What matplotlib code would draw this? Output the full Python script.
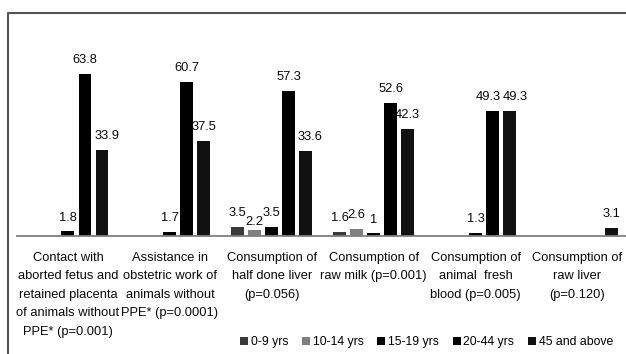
import numpy as np
import matplotlib
matplotlib.use("Agg")
import matplotlib.pyplot as plt
from matplotlib.lines import Line2D
from matplotlib.patches import Patch

plt.rcParams['font.family'] = ['Liberation Sans', 'DejaVu Sans']

# Data
categories = [
    "Contact with\naborted fetus and\nretained placenta\nof animals without\nPPE* (p=0.001)",
    "Assistance in\nobstetric work of\nanimals without\nPPE* (p=0.0001)",
    "Consumption of\nhalf done liver\n(p=0.056)",
    "Consumption of\nraw milk (p=0.001)",
    "Consumption of\nanimal  fresh\nblood (p=0.005)",
    "Consumption of\nraw liver\n(p=0.120)",
]
series_names = ["0-9 yrs", "10-14 yrs", "15-19 yrs", "20-44 yrs", "45 and above"]
age_0_9 = [0, 0, 3.5, 1.6, 0, 0]
age_10_14 = [0, 0, 2.2, 2.6, 0, 0]
age_15_19 = [1.8, 1.7, 3.5, 1, 1.3, 0]
age_20_44 = [63.8, 60.7, 57.3, 52.6, 49.3, 0]
age_45_up = [33.9, 37.5, 33.6, 42.3, 49.3, 3.1]
series = [age_0_9, age_10_14, age_15_19, age_20_44, age_45_up]
colors = ["#3a3a3a", "#7f7f7f", "#000000", "#000000", "#111111"]

fig = plt.figure(figsize=(6.26, 3.54), dpi=100)
ax = fig.add_axes([17 / 626, 0.3333, 611.5 / 626, 0.5015])

x = np.arange(len(categories))
step = 0.167
width = 0.127
# label nudges in pixels (series index, group index) -> (dx, dy)
nudge = {(1, 2): (0, -5), (4, 0): (5, 0), (3, 4): (-4, 0), (4, 4): (6, 0),
         (4, 2): (4, 0), (1, 3): (0, 1)}

for k, vals in enumerate(series):
    pos = x + (k - 2) * step
    ax.bar(pos, vals, width, color=colors[k], linewidth=0, label=series_names[k])
    for g, (p, v) in enumerate(zip(pos, vals)):
        if v == 0:
            continue
        dx, dy = nudge.get((k, g), (0, 0))
        ax.annotate(f"{v:g}", (p, v), xytext=(dx * 0.72, 10 + dy * 0.72),
                    textcoords="offset points", ha="center", va="center",
                    fontsize=9.3, color="#0a0a0a")

ax.set_xlim(-0.5, 5.5)
ax.set_ylim(0, 70)
ax.set_yticks([])
ax.set_xticks(x)
ax.set_xticklabels(categories, fontsize=9.3, color="#0a0a0a", va="top",
                   linespacing=1.72)
ax.tick_params(axis="x", length=0, pad=11.5)
for s in ["top", "left", "right"]:
    ax.spines[s].set_visible(False)
ax.spines["bottom"].set_color("#7f7f7f")
ax.spines["bottom"].set_linewidth(1.3)

# outer chart border (cropped on right and bottom)
fig.add_artist(Line2D([8 / 626, 8 / 626, 1.01], [-0.01, 1 - 12.5 / 354, 1 - 12.5 / 354],
                      transform=fig.transFigure, color="#555555", lw=1.5))

handles = [Patch(facecolor=c, edgecolor="none") for c in colors]
fig.legend(handles, series_names, ncol=5, loc="center",
           bbox_to_anchor=(426.5 / 626, 1 - 342 / 354), frameon=False,
           fontsize=8.8, handlelength=0.65, handleheight=0.65,
           handletextpad=0.2, columnspacing=1.15, borderpad=0)

fig.savefig("out.png", dpi=100)
